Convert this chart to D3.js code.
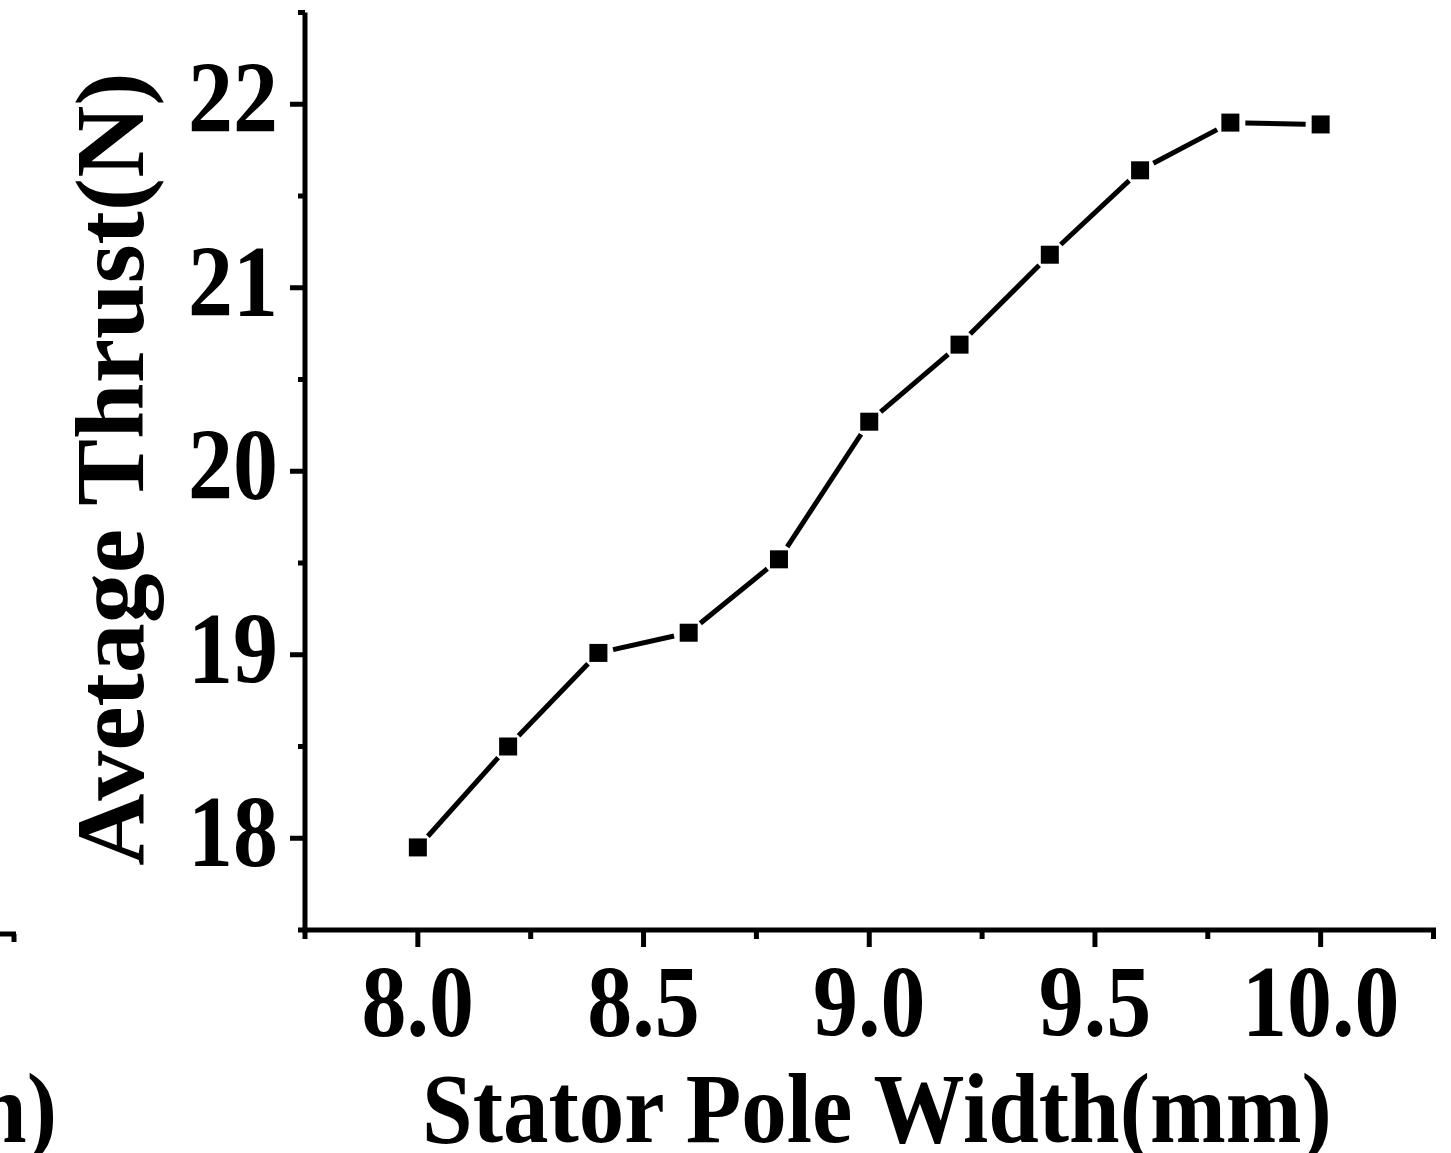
<!DOCTYPE html>
<html>
<head>
<meta charset="utf-8">
<script src="https://cdn.jsdelivr.net/npm/d3@7"></script>
<style>
  html, body { margin: 0; padding: 0; background: #fff; }
  svg { display: block; }
</style>
</head>
<body>
<div id="chart"></div>
<script>
// stator pole width (mm) vs average thrust (N)
var poleWidth = [8.0, 8.2, 8.4, 8.6, 8.8, 9.0, 9.2, 9.4, 9.6, 9.8, 10.0];
var avgThrust = [17.95, 18.50, 19.01, 19.12, 19.52, 20.27, 20.69, 21.18, 21.64, 21.90, 21.89];
var xMajorTicks = [8.0, 8.5, 9.0, 9.5, 10.0];
var xMinorTicks = [7.75, 8.25, 8.75, 9.25, 9.75, 10.25];
var yMajorTicks = [18, 19, 20, 21, 22];
var yMinorTicks = [17.5, 18.5, 19.5, 20.5, 21.5, 22.5];
var xTitle = 'Stator Pole Width(mm)';
var yTitle = 'Avetage Thrust(N)';
var neighbourTitle = 'Stator Pole Width(mm)';

var W = 1451, H = 1153;
var FONT = '"Liberation Serif", "Times New Roman", serif';
var svg = d3.select('#chart').append('svg').attr('width', W).attr('height', H);

var x = d3.scaleLinear().domain([7.75, 10.25]).range([305, 1433.5]);
var y = d3.scaleLinear().domain([17.5, 22.5]).range([930, 12.5]);

// bold serif text, stretched a little vertically like the exported figure
function label(g, tx, ty, txt, size, anchor, rot, sy) {
  return g.append('text')
    .attr('transform', 'translate(' + tx + ',' + ty + ')' + (rot ? ' rotate(' + rot + ')' : '') + ' scale(1,' + (sy || 1.1) + ')')
    .attr('text-anchor', anchor).attr('font-family', FONT).attr('font-weight', 'bold')
    .attr('font-size', size + 'px').attr('fill', '#000').text(txt);
}

// axes
var ax = svg.append('g').attr('stroke', '#000').attr('stroke-width', 5);
ax.append('line').attr('x1', x(7.75)).attr('x2', x(7.75)).attr('y1', y(22.5)).attr('y2', y(17.5) + 2.5);
ax.append('line').attr('x1', x(7.75) - 2.5).attr('x2', x(10.25) + 2.5).attr('y1', y(17.5)).attr('y2', y(17.5));

ax.selectAll('.xmaj').data(xMajorTicks).join('line').attr('class', 'xmaj')
  .attr('x1', function(d) { return x(d); }).attr('x2', function(d) { return x(d); })
  .attr('y1', y(17.5)).attr('y2', y(17.5) + 17);
ax.selectAll('.xmin').data(xMinorTicks).join('line').attr('class', 'xmin')
  .attr('x1', function(d) { return x(d); }).attr('x2', function(d) { return x(d); })
  .attr('y1', y(17.5)).attr('y2', y(17.5) + 9);
ax.selectAll('.ymaj').data(yMajorTicks).join('line').attr('class', 'ymaj')
  .attr('x1', x(7.75)).attr('x2', x(7.75) - 15)
  .attr('y1', function(d) { return y(d); }).attr('y2', function(d) { return y(d); });
ax.selectAll('.ymin').data(yMinorTicks).join('line').attr('class', 'ymin')
  .attr('x1', x(7.75)).attr('x2', x(7.75) - 7)
  .attr('y1', function(d) { return y(d); }).attr('y2', function(d) { return y(d); });

var lab = svg.append('g');
xMajorTicks.forEach(function(d) { label(lab, x(d), 1036, d.toFixed(1), 90, 'middle', 0, 1.12); });
yMajorTicks.forEach(function(d) { label(lab, 278, y(d) + 28, String(d), 90, 'end', 0, 1.12); });
label(lab, 877, 1142, xTitle, 91, 'middle', 0, 1.1);
label(lab, 143, 469, yTitle, 100, 'middle', -90, 0.97);

// line with gaps around the markers
var pts = poleWidth.map(function(d, i) { return [x(d), y(avgThrust[i])]; });
var gap = 15;
var segs = d3.pairs(pts).map(function(p) {
  var dx = p[1][0] - p[0][0], dy = p[1][1] - p[0][1], len = Math.sqrt(dx * dx + dy * dy);
  var ux = dx / len, uy = dy / len;
  return [[p[0][0] + ux * gap, p[0][1] + uy * gap], [p[1][0] - ux * gap, p[1][1] - uy * gap]];
});
svg.append('g').selectAll('line').data(segs).join('line')
  .attr('x1', function(s) { return s[0][0]; }).attr('y1', function(s) { return s[0][1]; })
  .attr('x2', function(s) { return s[1][0]; }).attr('y2', function(s) { return s[1][1]; })
  .attr('stroke', '#000').attr('stroke-width', 5);

svg.append('g').selectAll('rect').data(pts).join('rect')
  .attr('x', function(p) { return p[0] - 9; }).attr('y', function(p) { return p[1] - 9; })
  .attr('width', 18).attr('height', 18).attr('fill', '#000');

// edge of the neighbouring panel, cut off on the left
var nb = svg.append('g').attr('stroke', '#000').attr('stroke-width', 5);
nb.append('line').attr('x1', 0).attr('x2', 16).attr('y1', 934).attr('y2', 934);
nb.append('line').attr('x1', 14).attr('x2', 14).attr('y1', 934).attr('y2', 942);
label(svg, 57, 1142, neighbourTitle, 91, 'end', 0, 1.1);
</script>
</body>
</html>
